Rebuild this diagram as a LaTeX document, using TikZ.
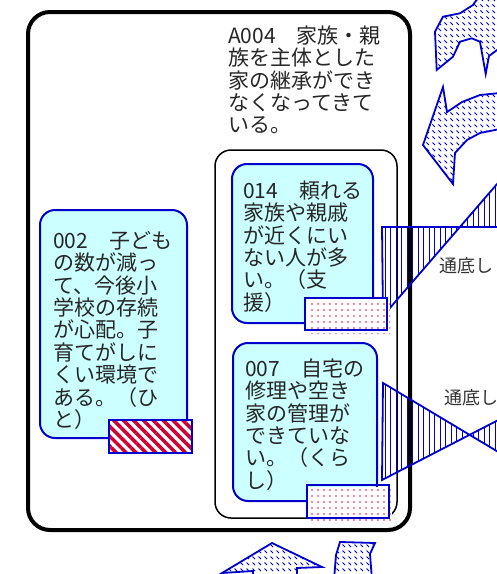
\documentclass[tikz,border=0pt]{standalone}
\usepackage{fontspec}
\setmainfont{Noto Sans CJK JP}
\usetikzlibrary{patterns,patterns.meta}
\definecolor{cy}{HTML}{CCFFFF}
\definecolor{bl}{HTML}{0000CC}
\definecolor{crim}{HTML}{CC0033}
\definecolor{pinkdot}{HTML}{F0104A}
\pgfdeclarepatternformonly{bluedash}{\pgfqpoint{-1pt}{-1pt}}{\pgfqpoint{7pt}{7pt}}{\pgfqpoint{6pt}{6pt}}{%
  \pgfsetlinewidth{0.9pt}\pgfpathmoveto{\pgfqpoint{0.5pt}{5.5pt}}\pgfpathlineto{\pgfqpoint{3pt}{3pt}}\pgfusepath{stroke}}
\begin{document}
\begin{tikzpicture}[x=1pt,y=-1pt,
  frame/.style={draw=black, rectangle, inner sep=0pt},
  card/.style={draw=bl, line width=2pt, fill=cy, rounded corners=15pt, rectangle, inner sep=0pt},
  txt/.style={anchor=north west, inner sep=0pt, align=left, font=\fontsize{21}{22.4}\selectfont, text=black!85},
  lbl/.style={anchor=west, inner sep=0pt, font=\fontsize{18}{18}\selectfont, text=black!80},
  arrowshape/.style={draw=bl, line width=1.8pt, fill=white, postaction={pattern=bluedash, pattern color=bl}},
  bow/.style={draw=bl, line width=1.8pt, pattern={Lines[angle=90,distance=5.5pt,line width=1pt]}, pattern color=bl},
  stripes/.style={pattern={Lines[angle=-45,distance=7pt,line width=3.5pt]}, pattern color=crim},
  dotpat/.style={pattern={Dots[distance=6pt,radius=0.95pt]}, pattern color=pinkdot},
  tag/.style={rectangle, inner sep=0pt, fill=white}
]
\clip (0,0) rectangle (497,574);

% containers
\node[frame, line width=4pt, rounded corners=22pt, minimum width=382pt, minimum height=518pt] (outer) at (219,271) {};
\node[frame, line width=1.5pt, rounded corners=16pt, minimum width=182pt, minimum height=368pt] (inner) at (306,334) {};
\node[txt] (t004) at (228,23) {\rule{0pt}{20pt}A004　家族・親\\族を主体とした\\家の継承ができ\\なくなってきて\\いる。};

% cards
\node[card, minimum width=147pt, minimum height=228pt] (c002) at (113.5,324) {};
\node[txt] (t002) at (53,228) {\rule{0pt}{20pt}002　子ども\\の数が減っ\\て、今後小\\学校の存続\\が心配。子\\育てがしに\\くい環境で\\ある。（ひ\\と）};
\node[card, minimum width=141pt, minimum height=159pt] (c014) at (302.5,243.5) {};
\node[txt] (t014) at (243,178) {\rule{0pt}{20pt}014　頼れる\\家族や親戚\\が近くにい\\ない人が多\\い。（支\\援）};
\node[card, minimum width=144pt, minimum height=158pt] (c007) at (305,422) {};
\node[txt] (t007) at (245,356) {\rule{0pt}{20pt}007　自宅の\\修理や空き\\家の管理が\\できていな\\い。（くら\\し）};

% bowtie connectors
\draw[bow] (382,227) -- (510,227) -- (510,169) -- (383,316) -- cycle;
\draw[bow] (383,383) -- (510,459) -- (510,414) -- (382,480) -- cycle;
\node[lbl] (l1) at (439,266) {通底し};
\node[lbl] (l2) at (444,398) {通底し};

% tags
\node[tag, minimum width=83pt, minimum height=33pt] (s002) at (150.5,436.5) {};
\fill[stripes] (s002.north west) rectangle (s002.south east);
\draw[bl, line width=2pt] (s002.north west) rectangle (s002.south east);

\node[tag, minimum width=84pt, minimum height=34pt] (d014) at (348,316) {};
\fill[dotpat] ([shift={(2,2)}]d014.north west) rectangle (d014.south east);
\draw[bl, line width=2pt] ([shift={(-1,-1)}]d014.north west) rectangle ([shift={(-3,-3)}]d014.south east);

\node[tag, minimum width=84pt, minimum height=34pt] (d007) at (350,503.5) {};
\fill[dotpat] ([shift={(2,2)}]d007.north west) rectangle (d007.south east);
\draw[bl, line width=2pt] ([shift={(-1,-1)}]d007.north west) rectangle ([shift={(-3,-3)}]d007.south east);

% block arrows
\draw[arrowshape] (436.7,70) -- (435,31.7) -- (443,16.7) -- (460,13.3) -- (473,5) -- (480,-5) -- (510,-5) -- (510,46) -- (497,50) -- (489,56) -- (485.7,74) -- (480,41.7) -- (471.7,38.3) -- (460,41.7) -- (453,56.7) -- cycle;
\draw[arrowshape] (443,87) -- (447,112) -- (462,102) -- (480,95) -- (510,92) -- (510,127) -- (480,133) -- (467,140) -- (455,153) -- (453,184) -- (423,145) -- cycle;
\draw[arrowshape] (253,580) -- (253,571) -- (222,573) -- (272,543) -- (322,567) -- (297,568) -- (297,580) -- cycle;
\draw[arrowshape] (334,580) -- (336,555) -- (340,542) -- (375,543) -- (370,554) -- (372,580) -- cycle;
\end{tikzpicture}
\end{document}
